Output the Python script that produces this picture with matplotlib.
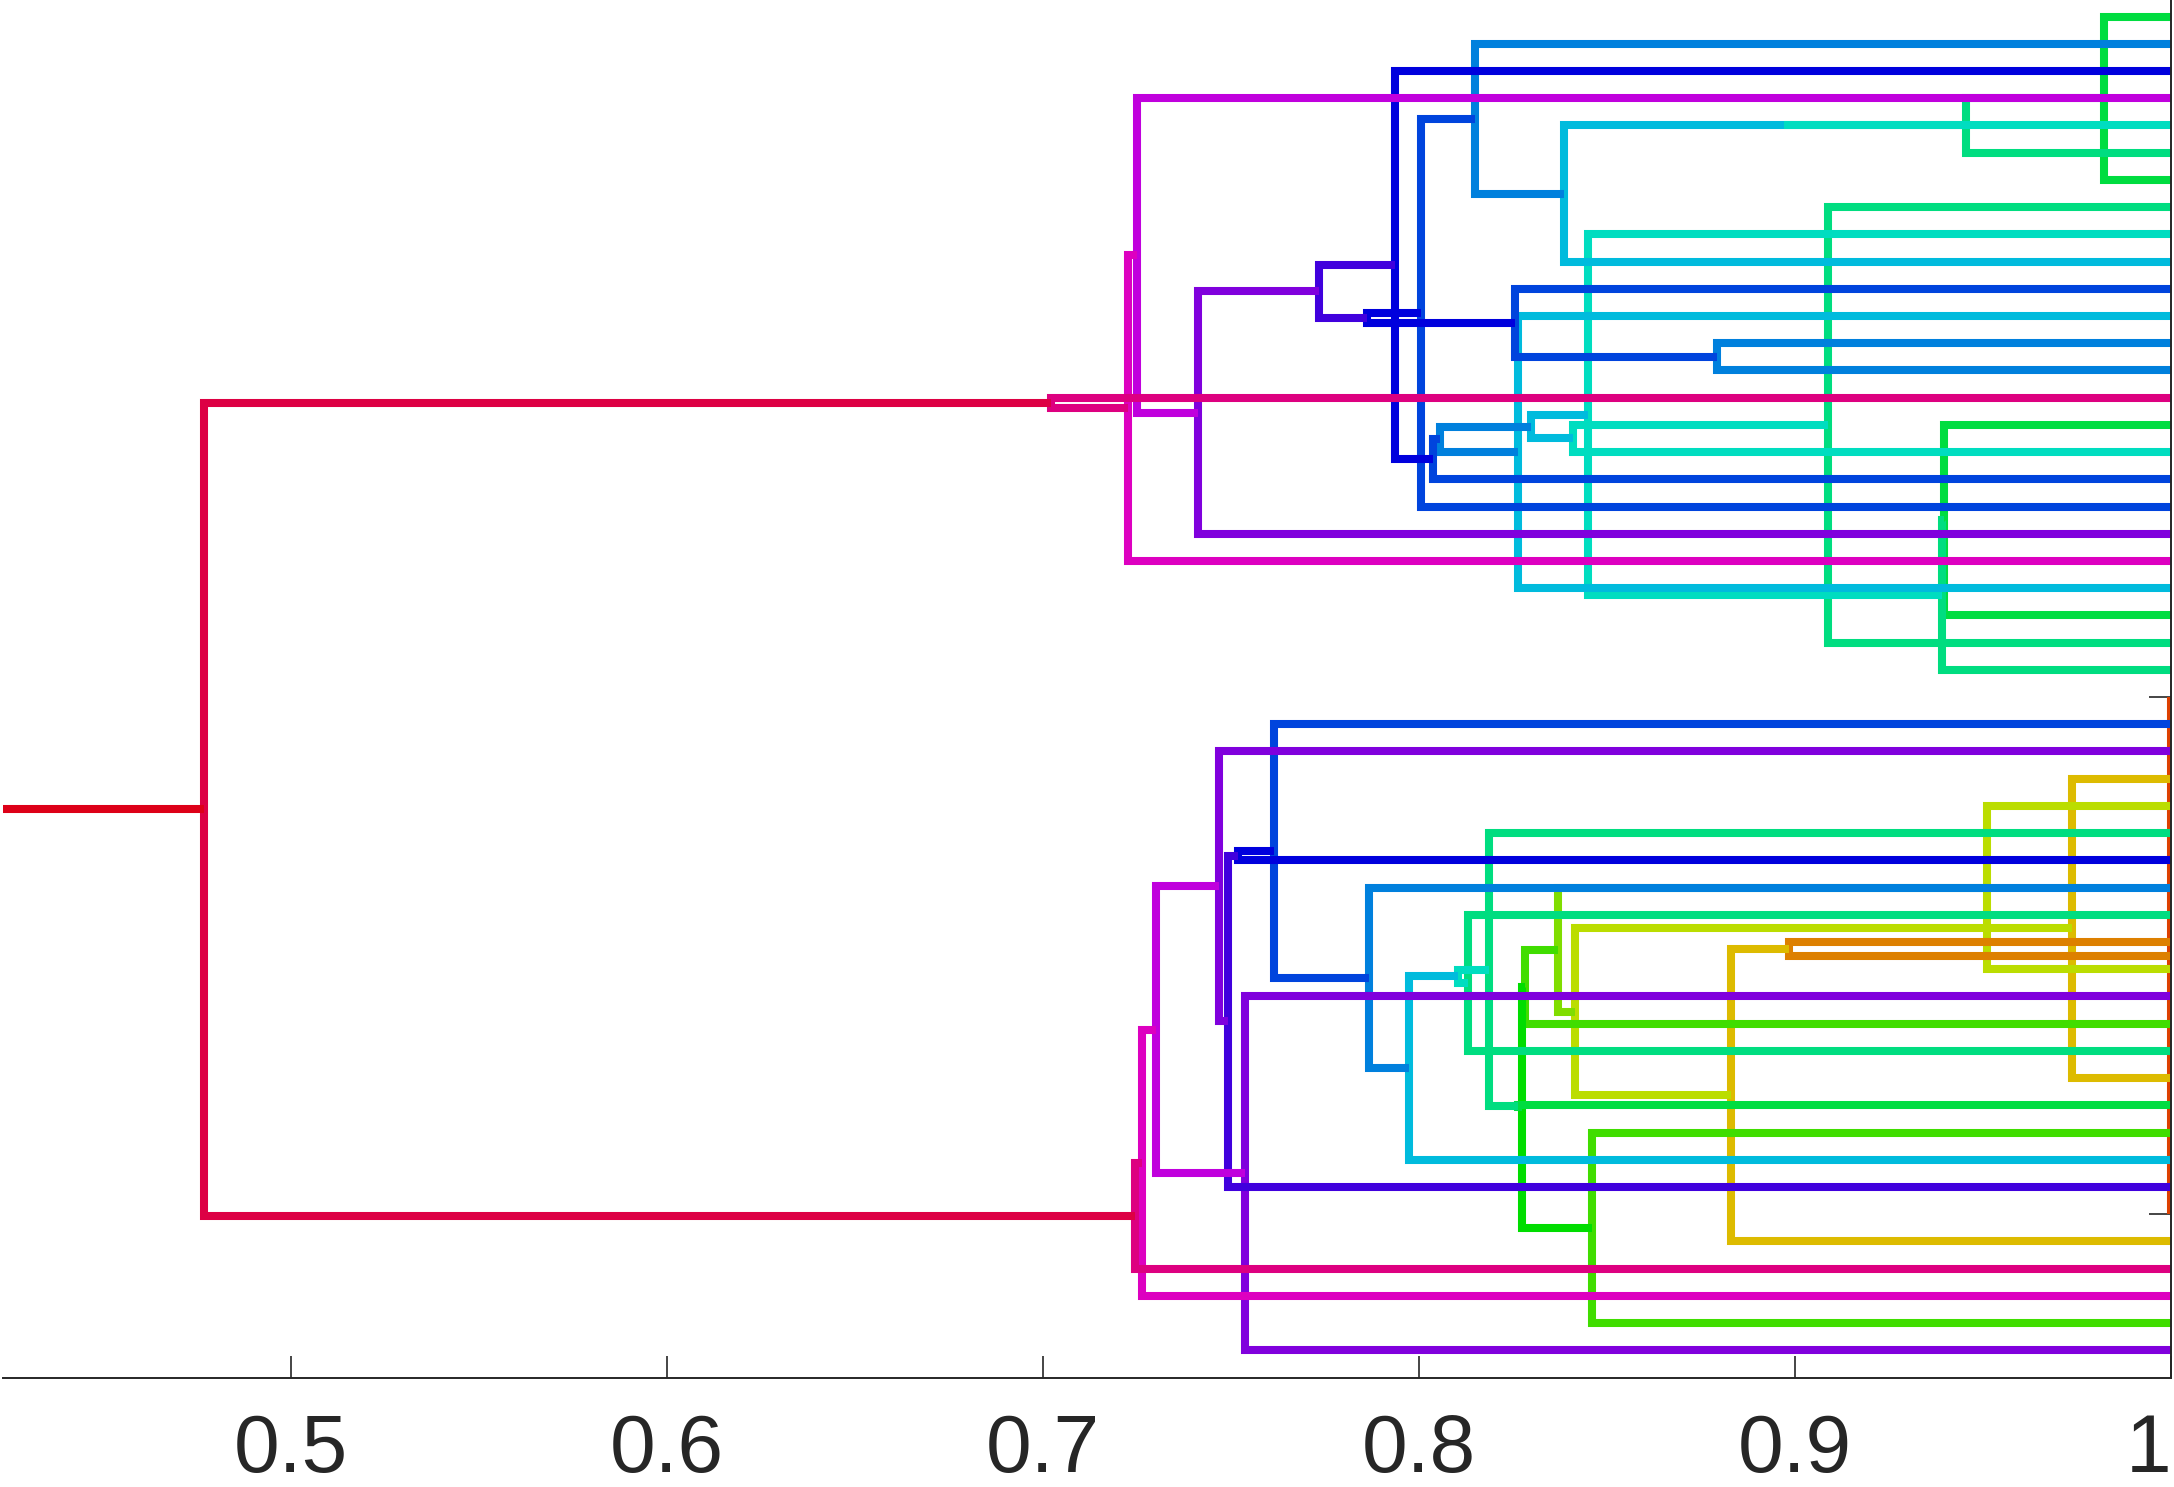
import matplotlib
matplotlib.use("Agg")
import matplotlib.pyplot as plt

plt.rcParams['font.family'] = ['Liberation Sans', 'DejaVu Sans']

# ---------------- data ----------------
n_leaves = 50                      # leaf rows 0..49 (top to bottom)
# merges: (node name, child a, child b, similarity); ints are leaf rows
links = [
    ("Z1", 25, 44, 1.000),
    ("G1", 0, 6, 0.9823),
    ("Y2", 28, 39, 0.9738),
    ("YG3", 29, 35, 0.9510),
    ("T", "G1", 5, 0.9455),
    ("S1", 15, 22, 0.9397),
    ("S2", "S1", 24, 0.9392),
    ("R", 7, 23, 0.9088),
    ("Or", 34, "Z1", 0.8983),
    ("X", "T", 4, 0.8972),
    ("Y1", "Or", 45, 0.8830),
    ("Q", 12, 13, 0.8792),
    ("Gr2", 41, 48, 0.8459),
    ("P", 8, "S2", 0.8449),
    ("YG1", "Y2", "Y1", 0.8415),
    ("O", "R", 16, 0.8410),
    ("N", "X", 9, 0.8385),
    ("YG2", "YG3", "YG1", 0.8369),
    ("M", "P", "O", 0.8299),
    ("Gr1", "YG2", 37, 0.8283),
    ("W", "Gr1", "Gr2", 0.8275),
    ("L2", 11, 21, 0.8262),
    ("W2", "W", 40, 0.8262),
    ("L1", 10, "Q", 0.8256),
    ("TG1", 30, "W2", 0.8187),
    ("K", 1, "N", 0.8150),
    ("TG2", 33, 38, 0.8130),
    ("S3", "TG1", "TG2", 0.8105),
    ("J", "M", "L2", 0.8056),
    ("I", "J", 17, 0.8036),
    ("H", "K", 18, 0.8004),
    ("C5", "S3", 42, 0.7973),
    ("G", 2, "I", 0.7936),
    ("A4", 32, "C5", 0.7866),
    ("F", "H", "L1", 0.7862),
    ("E", "G", "F", 0.7734),
    ("B3", 26, "A4", 0.7615),
    ("P2", 36, 49, 0.7538),
    ("N2", "B3", 31, 0.7518),
    ("I2", "N2", 43, 0.7493),
    ("P3", 27, "I2", 0.7469),
    ("D", "E", 19, 0.7412),
    ("M1", "P3", "P2", 0.7300),
    ("K1", "M1", 47, 0.7264),
    ("C", 3, "D", 0.7251),
    ("R1", "K1", 46, 0.7246),
    ("B", "C", 20, 0.7227),
    ("A", 14, "B", 0.7022),
    ("root", "A", "R1", 0.4769),
]

x_ticks = [0.5, 0.6, 0.7, 0.8, 0.9, 1.0]
x_tick_labels = ["0.5", "0.6", "0.7", "0.8", "0.9", "1"]
y_ticks = [25, 44]

# ---------------- styles ----------------
node_colors = {
    "Z1": "#dd4000", "G1": "#00dd40", "Y2": "#ddbb00", "YG3": "#bbdd00",
    "T": "#00dd80", "S1": "#00dd40", "S2": "#00dd80", "R": "#00dd80",
    "Or": "#dd8000", "X": "#00ddc0", "Y1": "#ddbb00", "Q": "#0080dd",
    "Gr2": "#40dd00", "P": "#00ddc0", "YG1": "#bbdd00", "O": "#00ddc0",
    "N": "#00bbdd", "YG2": "#80dd00", "M": "#00bbdd", "Gr1": "#40dd00",
    "W": "#00dd00", "L2": "#00bbdd", "W2": "#00dd40", "L1": "#0044dd",
    "TG1": "#00dd80", "K": "#0080dd", "TG2": "#00dd80", "S3": "#00ddc0",
    "J": "#0080dd", "I": "#0044dd", "H": "#0044dd", "C5": "#00bbdd",
    "G": "#0000dd", "A4": "#0080dd", "F": "#0000dd", "E": "#4000dd",
    "B3": "#0044dd", "P2": "#8000dd", "N2": "#0000dd", "I2": "#4000dd",
    "P3": "#8000dd", "D": "#8000dd", "M1": "#c000dd", "K1": "#dd00c0",
    "C": "#c000dd", "R1": "#dd0080", "B": "#dd00c0", "A": "#dd0080",
    "root": "#dd0044",
}
stub_color = "#dd0018"
axis_color = "#262626"
LW = 5.8

W_PX, H_PX, DPI = 2174, 1487, 100
fig = plt.figure(figsize=(W_PX / DPI, H_PX / DPI), dpi=DPI)
ax = fig.add_axes([2.8 / W_PX, 109.0 / H_PX, (2171.0 - 2.8) / W_PX, 1 - 109.0 / H_PX])

x_left = 1.0 - (2171.0 - 2.8) / 3760.0
ax.set_xlim(x_left, 1.0)
ax.set_ylim(50.02, -0.611)

# positions
pos = {}
for i in range(n_leaves):
    pos[i] = (1.0, float(i))

for k, (name, a, b, h) in enumerate(links):
    xa, ya = pos[a]
    xb, yb = pos[b]
    ax.plot([xa, h, h, xb], [ya, ya, yb, yb], color=node_colors[name], lw=LW,
            solid_joinstyle='miter', solid_capstyle='butt', zorder=2 + k * 0.01)
    pos[name] = (h, (ya + yb) / 2.0)

# root stub
rx, ry = pos["root"]
ax.plot([x_left, rx], [ry, ry], color=stub_color, lw=LW, solid_capstyle='butt',
        zorder=2 + len(links) * 0.01)

# axes styling
for s in ("top", "left"):
    ax.spines[s].set_visible(False)
for s in ("bottom", "right"):
    ax.spines[s].set_color(axis_color)
    ax.spines[s].set_linewidth(1.4)
    ax.spines[s].set_zorder(10)

ax.set_xticks(x_ticks)
ax.set_xticklabels(x_tick_labels)
ax.tick_params(axis='x', direction='in', length=16, width=1.2, colors=axis_color,
               labelsize=59, pad=25)
ax.get_xticklabels()[-1].set_horizontalalignment('right')
ax.yaxis.tick_right()
ax.set_yticks(y_ticks)
ax.set_yticklabels([])
ax.tick_params(axis='y', direction='in', length=16, width=1.2, colors=axis_color)

fig.savefig("out.png", dpi=DPI)
